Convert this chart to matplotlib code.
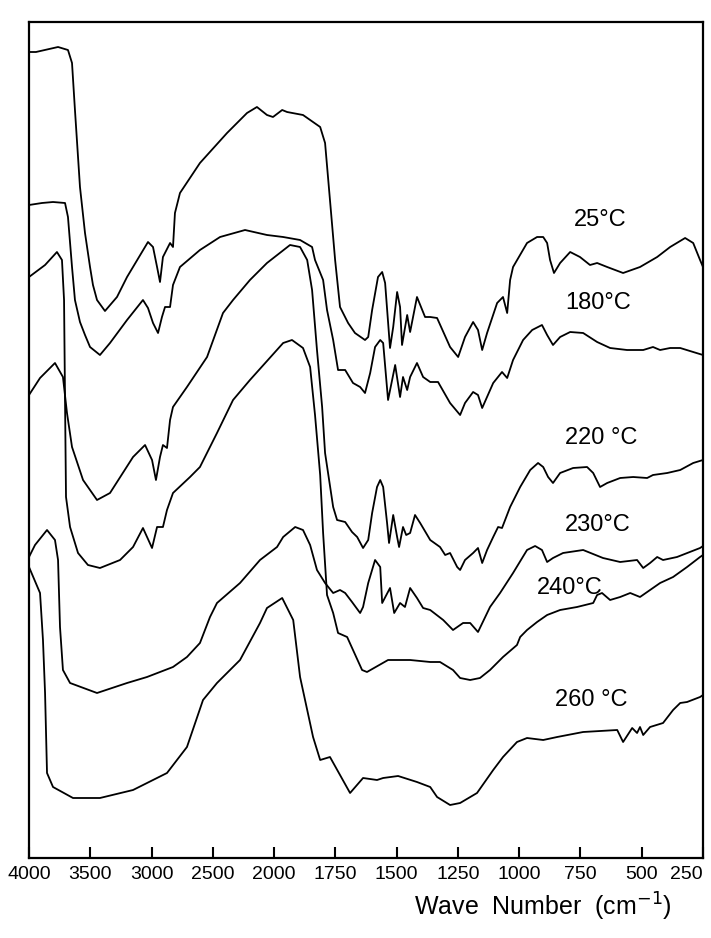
import numpy as np
import matplotlib
matplotlib.use("Agg")
import matplotlib.pyplot as plt

plt.rcParams['font.family'] = ['Liberation Sans', 'DejaVu Sans']

# IR spectra (wave number in cm-1, transmittance in arbitrary offset units)
wn_25 = [4000, 3943, 3763, 3682, 3649, 3625, 3584, 3543, 3502, 3478, 3445, 3380, 3282, 3200,
         3029, 2988, 2955, 2931, 2907, 2849, 2825, 2809, 2768, 2605, 2384, 2221, 2140, 2058,
         2009, 1967, 1947, 1882, 1812, 1792, 1772, 1751, 1731, 1698, 1670, 1629, 1616, 1600,
         1576, 1559, 1547, 1527, 1514, 1498, 1486, 1478, 1457, 1445, 1417, 1384, 1363, 1335,
         1282, 1249, 1221, 1188, 1168, 1151, 1131, 1090, 1066, 1049, 1037, 1025, 968, 927,
         902, 886, 874, 858, 833, 792, 752, 711, 682, 641, 576, 507, 437, 384, 323, 290, 262, 250]
tr_25 = [80.8, 80.8, 81.3, 81.0, 79.7, 75.0, 67.3, 62.7, 59.3, 57.5, 56.0, 54.9, 56.3, 58.3,
         61.8, 61.3, 59.3, 57.8, 60.3, 61.7, 61.3, 64.7, 66.7, 69.7, 72.7, 74.7, 75.3, 74.5,
         74.3, 75.0, 74.8, 74.5, 73.3, 71.7, 66.0, 60.0, 55.3, 53.7, 52.7, 52.0, 52.3, 55.0,
         58.3, 58.8, 57.7, 51.2, 53.3, 56.8, 55.3, 51.5, 54.5, 52.8, 56.3, 54.3, 54.3, 54.2,
         51.3, 50.3, 52.3, 53.8, 53.0, 51.0, 52.7, 55.7, 56.3, 54.7, 58.0, 59.3, 61.7, 62.3,
         62.3, 61.7, 60.0, 58.7, 59.7, 60.8, 60.3, 59.5, 59.7, 59.3, 58.7, 59.3, 60.3, 61.3,
         62.2, 61.7, 60.0, 59.3]

wn_180 = [4000, 3894, 3804, 3706, 3682, 3649, 3625, 3584, 3543, 3502, 3421, 3339, 3200, 3070,
          3029, 2988, 2947, 2915, 2890, 2849, 2825, 2768, 2605, 2441, 2237, 2058, 1963, 1894,
          1845, 1833, 1800, 1784, 1759, 1739, 1710, 1678, 1649, 1629, 1608, 1588, 1567, 1555,
          1535, 1506, 1486, 1474, 1457, 1445, 1417, 1392, 1363, 1331, 1282, 1241, 1221, 1188,
          1168, 1151, 1106, 1070, 1049, 1025, 984, 947, 907, 886, 862, 833, 792, 739, 682,
          629, 560, 494, 454, 425, 384, 343, 290, 250]
tr_180 = [65.5, 65.7, 65.8, 65.7, 64.3, 59.3, 56.0, 53.8, 52.5, 51.3, 50.5, 51.7, 54.0, 56.0,
          55.2, 53.7, 52.7, 54.3, 55.3, 55.3, 57.5, 59.3, 61.0, 62.3, 63.0, 62.5, 62.3, 62.0,
          61.3, 60.0, 58.0, 55.0, 52.0, 49.0, 49.0, 47.7, 47.3, 46.7, 48.7, 51.3, 52.0, 51.7,
          46.0, 49.5, 46.3, 48.3, 47.0, 48.3, 49.7, 48.3, 47.8, 47.8, 45.7, 44.5, 45.7, 46.8,
          46.5, 45.2, 47.7, 48.8, 48.2, 50.0, 52.0, 53.0, 53.5, 52.5, 51.5, 52.3, 52.8, 52.7,
          51.8, 51.2, 51.0, 51.0, 51.3, 51.0, 51.2, 51.2, 50.8, 50.5]

wn_220 = [4000, 3910, 3788, 3723, 3690, 3649, 3559, 3445, 3339, 3151, 3053, 2996, 2964, 2931,
          2907, 2874, 2849, 2825, 2711, 2547, 2417, 2335, 2197, 2058, 1935, 1894, 1865, 1845,
          1825, 1804, 1792, 1759, 1743, 1710, 1682, 1661, 1637, 1616, 1600, 1580, 1567, 1555,
          1539, 1531, 1514, 1498, 1490, 1474, 1461, 1445, 1425, 1404, 1363, 1323, 1302, 1282,
          1253, 1241, 1221, 1188, 1168, 1151, 1131, 1106, 1086, 1070, 1037, 996, 955, 923,
          902, 882, 862, 833, 780, 723, 698, 670, 641, 588, 535, 478, 454, 396, 343, 290, 250]
tr_220 = [46.5, 48.2, 49.7, 48.3, 44.7, 41.3, 38.0, 36.0, 36.7, 40.3, 41.5, 40.0, 38.0, 40.3,
          41.5, 41.2, 44.0, 45.3, 47.3, 50.3, 54.7, 56.0, 58.0, 59.7, 61.5, 61.3, 60.0, 57.0,
          51.0, 45.3, 40.7, 35.3, 34.0, 33.8, 32.8, 32.3, 31.2, 32.0, 34.7, 37.3, 38.0, 37.3,
          33.7, 31.7, 34.5, 32.3, 31.3, 33.3, 32.5, 32.7, 34.5, 33.7, 32.0, 31.3, 30.5, 30.7,
          29.3, 29.0, 30.0, 30.7, 31.2, 29.7, 31.0, 32.3, 33.3, 33.2, 35.3, 37.3, 39.0, 39.7,
          39.3, 38.3, 37.7, 38.7, 39.2, 39.3, 38.7, 37.3, 37.7, 38.2, 38.3, 38.2, 38.5, 38.7,
          39.0, 39.7, 40.0]

wn_230 = [4000, 3951, 3853, 3788, 3763, 3747, 3723, 3665, 3445, 3200, 3037, 2825, 2711, 2605,
          2523, 2466, 2278, 2115, 1988, 1963, 1914, 1882, 1853, 1825, 1792, 1759, 1731, 1710,
          1682, 1649, 1637, 1616, 1588, 1567, 1559, 1527, 1510, 1486, 1466, 1445, 1417, 1392,
          1363, 1310, 1270, 1229, 1200, 1168, 1119, 1078, 1025, 968, 935, 907, 886, 862, 821,
          739, 658, 588, 519, 494, 466, 437, 413, 356, 262, 250]
tr_230 = [30.3, 31.5, 33.0, 32.0, 30.0, 23.3, 19.0, 17.7, 16.7, 17.7, 18.3, 19.3, 20.3, 21.7,
          24.3, 25.7, 27.7, 30.0, 31.3, 32.3, 33.3, 33.0, 31.5, 29.0, 27.7, 26.7, 27.0, 26.7,
          25.8, 24.7, 25.3, 27.7, 30.0, 29.3, 25.7, 27.2, 24.7, 25.7, 25.3, 27.2, 26.2, 25.2,
          25.0, 24.0, 23.0, 23.7, 23.7, 22.8, 25.3, 26.7, 28.7, 31.0, 31.4, 31.0, 29.8, 30.2,
          30.7, 31.0, 30.2, 29.8, 30.0, 29.2, 29.7, 30.3, 30.0, 30.3, 31.2, 31.4]

wn_240 = [4000, 3869, 3772, 3731, 3714, 3706, 3698, 3665, 3600, 3519, 3421, 3257, 3151, 3070,
          2996, 2955, 2907, 2874, 2825, 2686, 2605, 2466, 2335, 2197, 1963, 1927, 1882, 1853,
          1833, 1812, 1800, 1784, 1759, 1739, 1702, 1678, 1641, 1621, 1535, 1445, 1363, 1323,
          1270, 1241, 1200, 1160, 1119, 1066, 1009, 996, 968, 927, 886, 833, 764, 698, 682,
          662, 629, 588, 547, 507, 466, 425, 372, 315, 262, 250]
tr_240 = [58.3, 59.5, 60.8, 60.0, 56.0, 46.0, 36.3, 33.3, 30.7, 29.5, 29.2, 30.0, 31.3, 33.2,
          31.2, 33.3, 33.3, 35.0, 36.7, 38.3, 39.3, 42.7, 46.0, 48.0, 51.7, 52.0, 51.2, 49.3,
          44.5, 38.5, 32.7, 26.5, 24.7, 22.7, 22.3, 21.0, 19.0, 18.8, 20.0, 20.0, 19.8, 19.8,
          19.0, 18.2, 18.0, 18.2, 19.0, 20.3, 21.5, 22.3, 23.0, 23.8, 24.5, 25.0, 25.3, 25.7,
          26.5, 26.7, 26.0, 26.3, 26.7, 26.3, 27.0, 27.7, 28.3, 29.3, 30.3, 30.5]

wn_260 = [4000, 3910, 3886, 3869, 3853, 3804, 3641, 3421, 3151, 2874, 2711, 2580, 2466, 2278,
          2115, 2058, 1967, 1922, 1894, 1841, 1812, 1772, 1690, 1637, 1580, 1555, 1494, 1417,
          1363, 1335, 1282, 1241, 1172, 1106, 1066, 1009, 968, 902, 845, 739, 600, 576, 539,
          519, 507, 494, 466, 413, 372, 343, 315, 262, 250]
tr_260 = [29.3, 26.7, 22.0, 16.7, 8.7, 7.3, 6.2, 6.2, 7.0, 8.7, 11.3, 16.0, 17.7, 20.0,
          23.7, 25.2, 26.2, 24.0, 18.3, 12.3, 10.0, 10.3, 6.7, 8.2, 8.0, 8.2, 8.4, 7.8,
          7.3, 6.3, 5.5, 5.7, 6.7, 9.0, 10.3, 11.8, 12.2, 12.0, 12.3, 12.8, 13.0, 11.8, 13.2,
          12.7, 13.3, 12.5, 13.3, 13.7, 15.0, 15.7, 15.8, 16.3, 16.5]

curve_labels = ['25°C', '180°C', '220 °C', '230°C', '240°C', '260 °C']
tick_vals = [4000, 3500, 3000, 2500, 2000, 1750, 1500, 1250, 1000, 750, 500, 250]


# the chart paper changes scale at 2000 cm-1 (500 per division above, 250 below)
def fwd(w):
    w = np.asarray(w, dtype=float)
    return np.where(w >= 2000, w / 500.0, (w - 1000.0) / 250.0)


def inv(p):
    p = np.asarray(p, dtype=float)
    return np.where(p >= 4, p * 500.0, p * 250.0 + 1000.0)


fig = plt.figure(figsize=(7.11, 9.38), dpi=100)
ax = fig.add_axes([29 / 711, 80 / 938, 674 / 711, 836 / 938])

series = [(wn_25, tr_25), (wn_180, tr_180), (wn_220, tr_220),
          (wn_230, tr_230), (wn_240, tr_240), (wn_260, tr_260)]
for wn, tr in series:
    ax.plot(wn, tr, color='black', lw=1.3, solid_joinstyle='round')

# temperature labels next to each trace
label_pos = [(670, 64.0), (678, 55.7), (666, 42.2), (678, 33.5), (792, 27.2), (707, 16.0)]
for lab, (x, y) in zip(curve_labels, label_pos):
    ax.text(x, y, lab, ha='center', va='center', fontsize=17)

ax.set_xscale('function', functions=(fwd, inv))
ax.set_xlim(4000, 250)
ax.set_ylim(0.2, 83.8)
ax.set_yticks([])
ax.set_xticks(tick_vals, labels=[str(t) for t in tick_vals])
ax.tick_params(axis='x', direction='in', length=8, width=1.5, labelsize=14, pad=6)
ax.get_xticklabels()[-1].set_ha('right')
for s in ax.spines.values():
    s.set_linewidth(1.6)

fig.text(543 / 711, 1 - 907 / 938, 'Wave  Number  (cm$^{-1}$)',
         ha='center', va='center', fontsize=18)

fig.savefig('out.png', dpi=100)
